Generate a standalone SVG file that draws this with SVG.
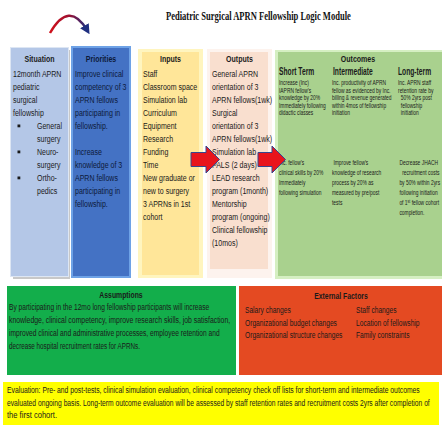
<svg xmlns="http://www.w3.org/2000/svg" width="442" height="428" viewBox="0 0 442 428">
<defs>
<style>
.t{font-family:"Liberation Sans",Arial,sans-serif;font-size:9.5px;fill:#1a1a1a}
.h{font-family:"Liberation Sans",Arial,sans-serif;font-size:9.5px;font-weight:bold;fill:#1a1a1a;text-anchor:middle}
.sh{font-family:"Liberation Sans",Arial,sans-serif;font-size:10px;font-weight:bold;fill:#1a1a1a}
.s{font-family:"Liberation Sans",Arial,sans-serif;font-size:7px;fill:#1a1a1a}
.e{font-family:"Liberation Sans",Arial,sans-serif;font-size:9px;fill:#1a1a1a}
.ttl{font-family:"Liberation Serif","Times New Roman",serif;font-size:12.5px;font-weight:bold;fill:#111}
.arr{fill:#e8141c;stroke:#34468f;stroke-width:1}
</style>
<linearGradient id="cg" x1="0" y1="0" x2="1" y2="0">
<stop offset="0" stop-color="#d0101a"/>
<stop offset="0.5" stop-color="#a01030"/>
<stop offset="1" stop-color="#1f2f80"/>
</linearGradient>
<marker id="ah" viewBox="0 0 10 10" refX="5" refY="5" markerWidth="4" markerHeight="4" orient="auto">
<path d="M0,0 L10,5 L0,10 z" fill="#1f2f80"/>
</marker>
</defs>
<rect width="442" height="428" fill="#ffffff"/>

<g id="title">
<g transform="translate(166,0) scale(0.7,1)">
<text class="ttl" x="0" y="20" textLength="264" lengthAdjust="spacingAndGlyphs">Pediatric Surgical APRN Fellowship Logic Module</text>
</g>
<path d="M50,33 Q69,0 87,30" fill="none" stroke="url(#cg)" stroke-width="2.5" marker-end="url(#ah)"/>
</g>

<g id="situation">
<rect x="13" y="50" width="57" height="229" fill="#c8c8c8"/>
<rect x="10" y="47" width="59" height="230" fill="#dde6f3"/>
<rect x="11" y="48" width="57" height="228" fill="#b4c7e7"/>
<g transform="translate(39.5,0) scale(0.74,1)"><text class="h" x="0" y="62">Situation</text></g>
<g transform="translate(13,0) scale(0.74,1)">
<text class="t"><tspan x="0" y="77">12month APRN</tspan><tspan x="0" y="90">pediatric</tspan><tspan x="0" y="103">surgical</tspan><tspan x="0" y="116">fellowship</tspan></text>
</g>
<rect x="17.5" y="124.5" width="2.8" height="2.8" fill="#1a1a1a"/>
<rect x="17.5" y="150.5" width="2.8" height="2.8" fill="#1a1a1a"/>
<rect x="17.5" y="176.5" width="2.8" height="2.8" fill="#1a1a1a"/>
<g transform="translate(37,0) scale(0.74,1)">
<text class="t"><tspan x="0" y="129">General</tspan><tspan x="0" y="142">surgery</tspan><tspan x="0" y="155">Neuro-</tspan><tspan x="0" y="168">surgery</tspan><tspan x="0" y="181">Ortho-</tspan><tspan x="0" y="194">pedics</tspan></text>
</g>
</g>

<g id="priorities">
<rect x="71" y="46" width="60" height="232" fill="#6ea2e6"/>
<rect x="73" y="48" width="56" height="228" fill="#4472c4"/>
<g transform="translate(101,0) scale(0.74,1)"><text class="h" x="0" y="62" style="fill:#0d1a3a">Priorities</text></g>
<g transform="translate(75,0) scale(0.74,1)">
<text class="t" style="fill:#0d1a3a"><tspan x="0" y="77">Improve clinical</tspan><tspan x="0" y="90">competency of 3</tspan><tspan x="0" y="103">APRN fellows</tspan><tspan x="0" y="116">participating in</tspan><tspan x="0" y="129">fellowship.</tspan><tspan x="0" y="155">Increase</tspan><tspan x="0" y="168">knowledge of 3</tspan><tspan x="0" y="181">APRN fellows</tspan><tspan x="0" y="194">participating in</tspan><tspan x="0" y="207">fellowship.</tspan></text>
</g>
</g>

<g id="inputs">
<rect x="138" y="49" width="65" height="229" fill="#fff5bf"/>
<rect x="142" y="52" width="57" height="223" fill="#ffe699"/>
<g transform="translate(170.5,0) scale(0.74,1)"><text class="h" x="0" y="62">Inputs</text></g>
<g transform="translate(143,0) scale(0.74,1)">
<text class="t"><tspan x="0" y="77">Staff</tspan><tspan x="0" y="90">Classroom space</tspan><tspan x="0" y="103">Simulation lab</tspan><tspan x="0" y="116">Curriculum</tspan><tspan x="0" y="129">Equipment</tspan><tspan x="0" y="142">Research</tspan><tspan x="0" y="155">Funding</tspan><tspan x="0" y="168">Time</tspan><tspan x="0" y="181">New graduate or</tspan><tspan x="0" y="194">new to surgery</tspan><tspan x="0" y="207">3 APRNs in 1st</tspan><tspan x="0" y="220">cohort</tspan></text>
</g>
</g>

<g id="outputs">
<rect x="207" y="49" width="65" height="229" fill="#fdf3ee"/>
<rect x="210" y="52" width="58" height="217" fill="#f9dfcf"/>
<g transform="translate(239.5,0) scale(0.74,1)"><text class="h" x="0" y="62">Outputs</text></g>
<g transform="translate(212,0) scale(0.74,1)">
<text class="t"><tspan x="0" y="77">General APRN</tspan><tspan x="0" y="90">orientation of 3</tspan><tspan x="0" y="103">APRN fellows(1wk)</tspan><tspan x="0" y="116">Surgical</tspan><tspan x="0" y="129">orientation of 3</tspan><tspan x="0" y="142">APRN fellows(1wk)</tspan><tspan x="0" y="155">Simulation lab</tspan><tspan x="0" y="168">PALS (2 days)</tspan><tspan x="0" y="181">LEAD research</tspan><tspan x="0" y="194">program (1month)</tspan><tspan x="0" y="207">Mentorship</tspan><tspan x="0" y="220">program (ongoing)</tspan><tspan x="0" y="233">Clinical fellowship</tspan><tspan x="0" y="246">(10mos)</tspan></text>
</g>
</g>

<g id="outcomes">
<rect x="275" y="50" width="170" height="229" fill="#d5efc2"/>
<rect x="278" y="52" width="167" height="224" fill="#a9d18e"/>
<g transform="translate(358,0) scale(0.74,1)"><text class="h" x="0" y="62">Outcomes</text></g>
<g transform="translate(279,0) scale(0.67,1)"><text class="sh" x="0" y="75">Short Term</text></g>
<g transform="translate(333,0) scale(0.67,1)"><text class="sh" x="0" y="75">Intermediate</text></g>
<g transform="translate(398,0) scale(0.67,1)"><text class="sh" x="0" y="75">Long-term</text></g>
<g transform="translate(279,0) scale(0.7,1)">
<text class="s"><tspan x="0" y="85.5">Increase (Inc)</tspan><tspan x="0" y="93">IAPRN fellow's</tspan><tspan x="0" y="100.5">knowledge by 20%</tspan><tspan x="0" y="108">Immediately following</tspan><tspan x="0" y="115.5">didactic classes</tspan></text>
<text class="s"><tspan x="0" y="165.5">Inc. fellow's</tspan><tspan x="0" y="175.5">clinical skills by 20%</tspan><tspan x="0" y="185.5">Immediately</tspan><tspan x="0" y="195.5">following simulation</tspan></text>
</g>
<g transform="translate(332,0) scale(0.7,1)">
<text class="s"><tspan x="0" y="85.5">Inc. productivity of APRN</tspan><tspan x="0" y="93">fellow as evidenced by Inc.</tspan><tspan x="0" y="100.5">billing &amp; revenue generated</tspan><tspan x="0" y="108">within 4mos of fellowship</tspan><tspan x="0" y="115.5">initiation</tspan></text>
<text class="s"><tspan x="2" y="165.5">Improve fellow's</tspan><tspan x="0" y="175.5">knowledge of research</tspan><tspan x="0" y="185.5">process by 20% as</tspan><tspan x="0" y="195.5">measured by pre/post</tspan><tspan x="0" y="205.5">tests</tspan></text>
</g>
<g transform="translate(398,0) scale(0.7,1)">
<text class="s"><tspan x="0" y="85.5">Inc. APRN staff</tspan><tspan x="0" y="93">retention rate by</tspan><tspan x="4" y="100.5">50% 2yrs post</tspan><tspan x="4" y="108">fellowship</tspan><tspan x="4" y="115.5">initiation</tspan></text>
<text class="s"><tspan x="2" y="165.5">Decrease JHACH</tspan><tspan x="6" y="175.5">recruitment costs</tspan><tspan x="2" y="185.5">by 50% within 2yrs</tspan><tspan x="2" y="195.5">following initiation</tspan><tspan x="2" y="205.5">of 1<tspan dy="-2" font-size="5">st</tspan><tspan dy="2"> fellow cohort</tspan></tspan><tspan x="2" y="215.5">completion.</tspan></text>
</g>
</g>

<g id="connectors">
<polygon class="arr" points="191,152.5 206,152.5 206,146 219.5,159.5 206,173 206,166.5 191,166.5"/>
<polygon class="arr" points="258,152.5 272,152.5 272,146 285.5,159.5 272,173 272,166.5 258,166.5"/>
</g>

<g id="assumptions">
<rect x="7" y="286" width="229" height="89" fill="#13ae4b"/>
<g transform="translate(121,0) scale(0.72,1)"><text class="h" x="0" y="298">Assumptions</text></g>
<g transform="translate(9,0) scale(0.7,1)">
<text class="t" x="0" y="310.5" textLength="286" lengthAdjust="spacingAndGlyphs">By participating in the 12mo long fellowship participants will increase</text>
<text class="t" x="0" y="323.5" textLength="316" lengthAdjust="spacingAndGlyphs">knowledge, clinical competency, improve research skills, job satisfaction,</text>
<text class="t" x="0" y="336.5" textLength="301" lengthAdjust="spacingAndGlyphs">improved clinical and administrative processes, employee retention and</text>
<text class="t" x="0" y="349.5" textLength="187" lengthAdjust="spacingAndGlyphs">decrease hospital recruitment rates for APRNs.</text>
</g>
</g>

<g id="external-factors">
<rect x="239" y="286" width="203" height="89" fill="#e44a22"/>
<g transform="translate(341,0) scale(0.72,1)"><text class="h" x="0" y="299">External Factors</text></g>
<g transform="translate(245,0) scale(0.7,1)">
<text class="t"><tspan x="0" y="313.5">Salary changes</tspan><tspan x="0" y="326">Organizational budget changes</tspan><tspan x="0" y="338.5">Organizational structure changes</tspan></text>
</g>
<g transform="translate(356,0) scale(0.7,1)">
<text class="t"><tspan x="0" y="313.5">Staff changes</tspan><tspan x="0" y="326">Location of fellowship</tspan><tspan x="0" y="338.5">Family constraints</tspan></text>
</g>
</g>

<g id="evaluation">
<rect x="3" y="382" width="436" height="43" fill="#ffff00"/>
<g transform="translate(7,0) scale(0.77,1)">
<text class="e" x="0" y="393.5" textLength="536" lengthAdjust="spacingAndGlyphs">Evaluation: Pre- and post-tests, clinical simulation evaluation, clinical competency check off lists for short-term and intermediate outcomes</text>
<text class="e" x="0" y="406" textLength="549" lengthAdjust="spacingAndGlyphs">evaluated ongoing basis. Long-term outcome evaluation will be assessed by staff retention rates and recruitment costs 2yrs after completion of</text>
<text class="e" x="0" y="418.5" textLength="65" lengthAdjust="spacingAndGlyphs">the first cohort.</text>
</g>
</g>
</svg>
